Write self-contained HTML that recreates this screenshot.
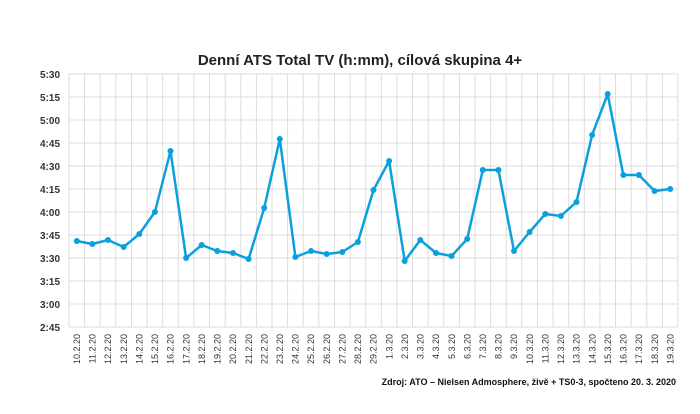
<!DOCTYPE html>
<html><head><meta charset="utf-8"><style>
body{margin:0;background:#fff;}
svg{display:block;font-family:"Liberation Sans",sans-serif;}
</style></head><body>
<svg width="700" height="414" viewBox="0 0 700 414" xmlns="http://www.w3.org/2000/svg">
<rect width="700" height="414" fill="#fff"/>
<text x="360" y="65" text-anchor="middle" font-size="15" font-weight="bold" fill="#222">Denní ATS Total TV (h:mm), cílová skupina 4+</text>
<path stroke="#dcdcdc" stroke-width="1" fill="none" d="M69 74H678M69 97H678M69 120H678M69 143H678M69 166H678M69 189H678M69 212H678M69 235H678M69 258H678M69 281H678M69 304H678M69 327H678
M69 74V327M84.6 74V327M100.2 74V327M115.8 74V327M131.5 74V327M147.1 74V327M162.7 74V327M178.3 74V327M193.9 74V327M209.5 74V327M225.2 74V327M240.8 74V327M256.4 74V327M272 74V327M287.6 74V327M303.2 74V327M318.8 74V327M334.5 74V327M350.1 74V327M365.7 74V327M381.3 74V327M396.9 74V327M412.5 74V327M428.2 74V327M443.8 74V327M459.4 74V327M475 74V327M490.6 74V327M506.2 74V327M521.8 74V327M537.5 74V327M553.1 74V327M568.7 74V327M584.3 74V327M599.9 74V327M615.5 74V327M631.2 74V327M646.8 74V327M662.4 74V327M678 74V327"/>
<g font-size="10" font-weight="bold" fill="#333" text-anchor="end">
<text x="60" y="78">5:30</text><text x="60" y="101">5:15</text><text x="60" y="124">5:00</text><text x="60" y="147">4:45</text><text x="60" y="170">4:30</text><text x="60" y="193">4:15</text><text x="60" y="216">4:00</text><text x="60" y="239">3:45</text><text x="60" y="262">3:30</text><text x="60" y="285">3:15</text><text x="60" y="308">3:00</text><text x="60" y="331">2:45</text>
</g>
<g font-size="9" fill="#333" text-anchor="end">
<text transform="translate(80,334) rotate(-90)">10.2.20</text>
<text transform="translate(95.6,334) rotate(-90)">11.2.20</text>
<text transform="translate(111.2,334) rotate(-90)">12.2.20</text>
<text transform="translate(126.9,334) rotate(-90)">13.2.20</text>
<text transform="translate(142.5,334) rotate(-90)">14.2.20</text>
<text transform="translate(158.1,334) rotate(-90)">15.2.20</text>
<text transform="translate(173.7,334) rotate(-90)">16.2.20</text>
<text transform="translate(189.3,334) rotate(-90)">17.2.20</text>
<text transform="translate(204.9,334) rotate(-90)">18.2.20</text>
<text transform="translate(220.5,334) rotate(-90)">19.2.20</text>
<text transform="translate(236.2,334) rotate(-90)">20.2.20</text>
<text transform="translate(251.8,334) rotate(-90)">21.2.20</text>
<text transform="translate(267.4,334) rotate(-90)">22.2.20</text>
<text transform="translate(283,334) rotate(-90)">23.2.20</text>
<text transform="translate(298.6,334) rotate(-90)">24.2.20</text>
<text transform="translate(314.2,334) rotate(-90)">25.2.20</text>
<text transform="translate(329.9,334) rotate(-90)">26.2.20</text>
<text transform="translate(345.5,334) rotate(-90)">27.2.20</text>
<text transform="translate(361.1,334) rotate(-90)">28.2.20</text>
<text transform="translate(376.7,334) rotate(-90)">29.2.20</text>
<text transform="translate(392.3,334) rotate(-90)">1.3.20</text>
<text transform="translate(407.9,334) rotate(-90)">2.3.20</text>
<text transform="translate(423.5,334) rotate(-90)">3.3.20</text>
<text transform="translate(439.2,334) rotate(-90)">4.3.20</text>
<text transform="translate(454.8,334) rotate(-90)">5.3.20</text>
<text transform="translate(470.4,334) rotate(-90)">6.3.20</text>
<text transform="translate(486,334) rotate(-90)">7.3.20</text>
<text transform="translate(501.6,334) rotate(-90)">8.3.20</text>
<text transform="translate(517.2,334) rotate(-90)">9.3.20</text>
<text transform="translate(532.8,334) rotate(-90)">10.3.20</text>
<text transform="translate(548.5,334) rotate(-90)">11.3.20</text>
<text transform="translate(564.1,334) rotate(-90)">12.3.20</text>
<text transform="translate(579.7,334) rotate(-90)">13.3.20</text>
<text transform="translate(595.3,334) rotate(-90)">14.3.20</text>
<text transform="translate(610.9,334) rotate(-90)">15.3.20</text>
<text transform="translate(626.5,334) rotate(-90)">16.3.20</text>
<text transform="translate(642.1,334) rotate(-90)">17.3.20</text>
<text transform="translate(657.8,334) rotate(-90)">18.3.20</text>
<text transform="translate(673.4,334) rotate(-90)">19.3.20</text>
</g>
<polyline fill="none" stroke="#0aa0dc" stroke-width="2.5" stroke-linejoin="round" points="76.8,241 92.4,244 108,240 123.7,247 139.3,234 154.9,212 170.5,151 186.1,258 201.7,245 217.3,251 233,253 248.6,259 264.2,208 279.8,139 295.4,257 311,251 326.7,254 342.3,252 357.9,242 373.5,190 389.1,161 404.7,261 420.3,240 436,253 451.6,256 467.2,239 482.8,170 498.4,170 514,251 529.6,232 545.3,214 560.9,216 576.5,202 592.1,135 607.7,94 623.3,175 638.9,175 654.6,191 670.2,189"/>
<g fill="#0aa0dc">
<circle cx="76.8" cy="241" r="3"/><circle cx="92.4" cy="244" r="3"/><circle cx="108" cy="240" r="3"/><circle cx="123.7" cy="247" r="3"/><circle cx="139.3" cy="234" r="3"/><circle cx="154.9" cy="212" r="3"/><circle cx="170.5" cy="151" r="3"/><circle cx="186.1" cy="258" r="3"/><circle cx="201.7" cy="245" r="3"/><circle cx="217.3" cy="251" r="3"/><circle cx="233" cy="253" r="3"/><circle cx="248.6" cy="259" r="3"/><circle cx="264.2" cy="208" r="3"/><circle cx="279.8" cy="139" r="3"/><circle cx="295.4" cy="257" r="3"/><circle cx="311" cy="251" r="3"/><circle cx="326.7" cy="254" r="3"/><circle cx="342.3" cy="252" r="3"/><circle cx="357.9" cy="242" r="3"/><circle cx="373.5" cy="190" r="3"/><circle cx="389.1" cy="161" r="3"/><circle cx="404.7" cy="261" r="3"/><circle cx="420.3" cy="240" r="3"/><circle cx="436" cy="253" r="3"/><circle cx="451.6" cy="256" r="3"/><circle cx="467.2" cy="239" r="3"/><circle cx="482.8" cy="170" r="3"/><circle cx="498.4" cy="170" r="3"/><circle cx="514" cy="251" r="3"/><circle cx="529.6" cy="232" r="3"/><circle cx="545.3" cy="214" r="3"/><circle cx="560.9" cy="216" r="3"/><circle cx="576.5" cy="202" r="3"/><circle cx="592.1" cy="135" r="3"/><circle cx="607.7" cy="94" r="3"/><circle cx="623.3" cy="175" r="3"/><circle cx="638.9" cy="175" r="3"/><circle cx="654.6" cy="191" r="3"/><circle cx="670.2" cy="189" r="3"/>
</g>
<text x="676" y="385" text-anchor="end" font-size="9" font-weight="bold" fill="#111">Zdroj: ATO – Nielsen Admosphere, živě + TS0-3, spočteno 20. 3. 2020</text>
</svg>
</body></html>
